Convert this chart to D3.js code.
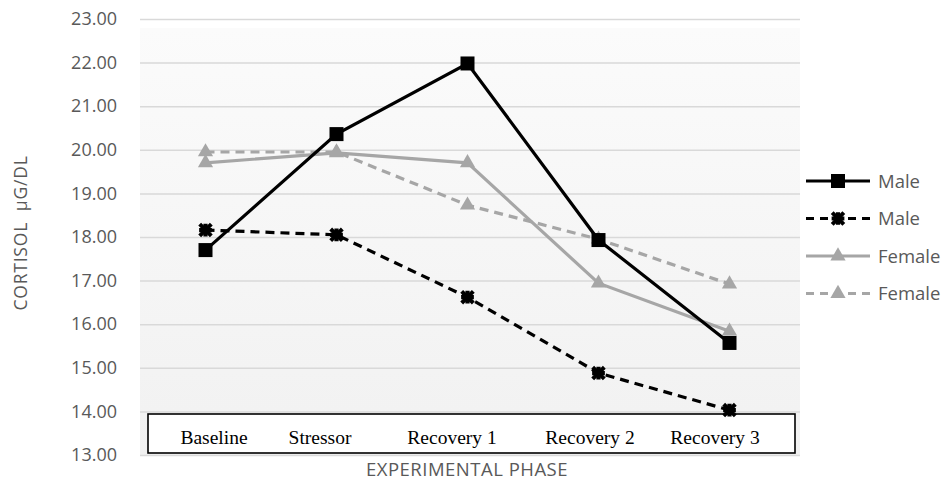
<!DOCTYPE html>
<html>
<head>
<meta charset="utf-8">
<script src="https://cdn.jsdelivr.net/npm/d3@7"></script>
<style>
  body { margin: 0; background: #fff; }
  svg { display: block; }
</style>
</head>
<body>
<script>
function main() {

    let phases = ["Baseline", "Stressor", "Recovery 1", "Recovery 2", "Recovery 3"];
    let yTicks = [13, 14, 15, 16, 17, 18, 19, 20, 21, 22, 23];

    let maleSolid = [17.70, 20.36, 21.98, 17.93, 15.57];
    let maleDashed = [18.16, 18.05, 16.62, 14.88, 14.03];
    let femaleSolid = [19.70, 19.93, 19.70, 16.94, 15.84];
    let femaleDashed = [19.95, 19.95, 18.73, 17.95, 16.92];

    let seriesNames = ["Male", "Male", "Female", "Female"];

    let series = [
        { name: seriesNames[0], values: maleSolid, color: "#000", dash: null, marker: "square" },
        { name: seriesNames[1], values: maleDashed, color: "#000", dash: "9,6", marker: "star" },
        { name: seriesNames[2], values: femaleSolid, color: "#a6a6a6", dash: null, marker: "triangle" },
        { name: seriesNames[3], values: femaleDashed, color: "#a6a6a6", dash: "9,6", marker: "triangle" }
    ];

    let svg = d3.select("body").append("svg")
        .attr("width", 943)
        .attr("height", 481);

    let xScale = d3.scaleBand().domain(phases).range([140, 795]);
    let yScale = d3.scaleLinear().domain([13, 23]).range([455, 19]);

    // plot background
    let grad = svg.append("defs").append("linearGradient")
        .attr("id", "bg").attr("x1", 0).attr("y1", 0).attr("x2", 0).attr("y2", 1);
    grad.append("stop").attr("offset", "0%").attr("stop-color", "#fbfbfb");
    grad.append("stop").attr("offset", "100%").attr("stop-color", "#f1f1f1");

    svg.append("rect")
        .attr("x", 140).attr("y", 28)
        .attr("width", 660).attr("height", 427)
        .attr("fill", "url(#bg)");

    // grid + y labels
    let yAxis = d3.axisLeft(yScale)
        .tickValues(yTicks)
        .tickSize(-660)
        .tickPadding(23)
        .tickFormat(d3.format(".2f"));

    let gy = svg.append("g")
        .attr("transform", "translate(140,0)")
        .call(yAxis);
    gy.select(".domain").remove();
    gy.selectAll(".tick line").attr("stroke", "#d9d9d9").attr("stroke-width", 1.5);
    gy.selectAll(".tick text")
        .attr("fill", "#595959")
        .style("font-family", "'Open Sans', sans-serif")
        .style("font-size", "18px");

    // category box
    svg.append("rect")
        .attr("x", 148).attr("y", 414)
        .attr("width", 647).attr("height", 39)
        .attr("fill", "#fff")
        .attr("stroke", "#000")
        .attr("stroke-width", 1.6);

    let boxLabelX = [214, 320, 452, 590, 715];
    svg.append("g").selectAll("text")
        .data(phases)
        .enter()
        .append("text")
        .attr("x", (d, i) => boxLabelX[i])
        .attr("y", 444)
        .attr("text-anchor", "middle")
        .style("font-family", "'Liberation Serif', 'Times New Roman', serif")
        .style("font-size", "19.5px")
        .attr("fill", "#000")
        .text(d => d);

    // axis titles
    svg.append("text")
        .attr("transform", "translate(27, 233) rotate(-90)")
        .attr("text-anchor", "middle")
        .attr("fill", "#595959")
        .style("font-family", "'Open Sans', sans-serif")
        .style("font-size", "17.5px")
        .style("letter-spacing", "0.8px")
        .attr("xml:space", "preserve")
        .text("CORTISOL  \u00B5G/DL");

    svg.append("text")
        .attr("x", 467).attr("y", 476)
        .attr("text-anchor", "middle")
        .attr("fill", "#595959")
        .style("font-family", "'Open Sans', sans-serif")
        .style("font-size", "18.5px")
        .style("letter-spacing", "0.5px")
        .text("EXPERIMENTAL PHASE");

    function drawMarker(g, type, color) {
        if (type === "square") {
            g.append("rect")
                .attr("x", -7).attr("y", -7)
                .attr("width", 14).attr("height", 14)
                .attr("fill", color);
        } else if (type === "star") {
            g.append("path")
                .attr("d", d3.symbol().type(d3.symbolX).size(90)())
                .attr("stroke", color).attr("stroke-width", 4).attr("fill", "none");
            g.append("path")
                .attr("d", d3.symbol().type(d3.symbolCross).size(90)())
                .attr("fill", color);
            g.append("circle").attr("r", 4.5).attr("fill", color);
        } else {
            g.append("path")
                .attr("d", d3.symbol().type(d3.symbolTriangle).size(100)())
                .attr("fill", color);
        }
    }

    let line = d3.line()
        .x((d, i) => xScale(phases[i]) + xScale.bandwidth() / 2)
        .y(d => yScale(d));

    // draw in back-to-front order
    let order = [3, 2, 1, 0];
    order.forEach(function (k) {
        let s = series[k];
        let g = svg.append("g");
        g.append("path")
            .attr("d", line(s.values))
            .attr("fill", "none")
            .attr("stroke", s.color)
            .attr("stroke-width", 3.2)
            .attr("stroke-dasharray", s.dash);
        g.selectAll(".pt")
            .data(s.values)
            .enter()
            .append("g")
            .attr("transform", (d, i) =>
                `translate(${xScale(phases[i]) + xScale.bandwidth() / 2},${yScale(d)})`)
            .each(function () { drawMarker(d3.select(this), s.marker, s.color); });
    });

    // legend
    let legend = svg.append("g").attr("transform", "translate(806,181)");
    let items = legend.selectAll("g")
        .data(series)
        .enter()
        .append("g")
        .attr("transform", (d, i) => `translate(0,${i * 37.5})`);
    items.append("line")
        .attr("x1", 0).attr("x2", 64)
        .attr("stroke", d => d.color)
        .attr("stroke-width", 3.2)
        .attr("stroke-dasharray", d => d.dash ? "8,6" : null);
    items.each(function (d) {
        let m = d3.select(this).append("g").attr("transform", "translate(32,0)");
        drawMarker(m, d.marker, d.color);
    });
    items.append("text")
        .attr("x", 72).attr("y", 6.5)
        .attr("fill", "#595959")
        .style("font-family", "'Open Sans', sans-serif")
        .style("font-size", "18.5px")
        .text(d => d.name);
}

main()
</script>
</body>
</html>
